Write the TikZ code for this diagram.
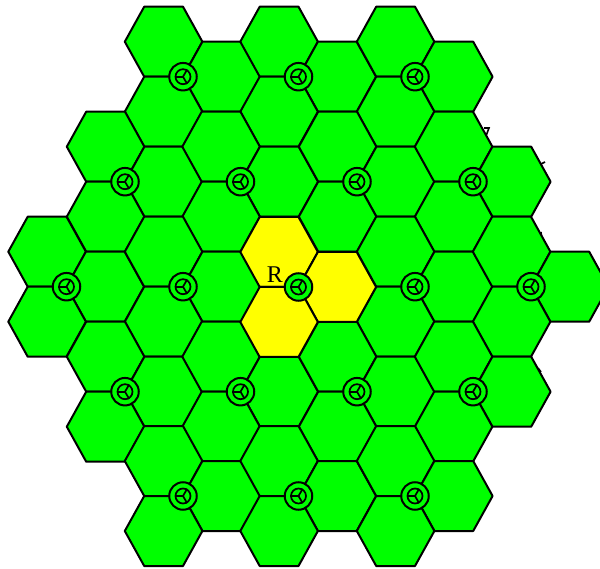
\documentclass[tikz,border=0pt]{standalone}
\usepackage{fontspec}
\setmainfont{Liberation Serif}
\definecolor{cellgreen}{RGB}{0,255,0}
\definecolor{cellyellow}{RGB}{255,255,0}
\tikzset{
  x=1pt,y=-1pt,
  hexcell/.style={draw=black,line width=2pt,line join=round,fill=cellgreen},
  hexhot/.style={hexcell,fill=cellyellow},
  antennaring/.style={draw=black,line width=2pt,fill=cellgreen},
  antennacore/.style={draw=black,line width=1.7pt},
  stray/.style={draw=black,line width=1.6pt},
}
\newcommand{\hexat}[3]{%
  \draw[#1] ({#2-38.8},{#3}) -- ({#2-19.4},{#3-35}) -- ({#2+19.4},{#3-35}) -- ({#2+38.8},{#3}) -- ({#2+19.4},{#3+35}) -- ({#2-19.4},{#3+35}) -- cycle;}
\newcommand{\sitecells}[3]{%
  \hexat{#1}{#2-19.4}{#3-35}\hexat{#1}{#2+38.8}{#3}\hexat{#1}{#2-19.4}{#3+35}}
\newcommand{\antenna}[3]{%
  \node[circle,inner sep=0pt,minimum size=27.5pt,antennaring] (s#1) at (#2,#3) {};
  \node[circle,inner sep=0pt,minimum size=15pt,antennacore] (c#1) at (#2,#3) {};
  \draw[antennacore] (c#1.center) -- (c#1.180);
  \draw[antennacore] (c#1.center) -- (c#1.60);
  \draw[antennacore] (c#1.center) -- (c#1.-60);}
\begin{document}
\begin{tikzpicture}
\useasboundingbox (0,0) rectangle (600,569);
\clip (0,0) rectangle (600,569);
\fill[white] (0,0) rectangle (600,569);
% stray marks behind the cells
\draw[stray] (191,22) arc (-60:60:5);
\draw[stray] (484,128) -- (489,128) -- (486,136);
\draw[stray] (541,164) -- (545,162);
\draw[stray] (541,232) -- (542,240);
\draw[stray] (538,368) -- (541,372);
% cells
\foreach \sx/\sy in {183/76.7,298.5/76.7,415/76.7,
  125/181.7,240.5/181.7,357/181.7,473/181.7,
  66.5/286.7,183/286.7,415/286.7,531/286.7,
  125/391.7,240.5/391.7,357/391.7,473/391.7,
  183/496,298.5/496,415/496}{
  \sitecells{hexcell}{\sx}{\sy}
}
\sitecells{hexhot}{298.5}{287}
% antennas
\foreach \n/\sx/\sy in {a/183/76.7,b/298.5/76.7,d/415/76.7,
  e/125/181.7,f/240.5/181.7,g/357/181.7,h/473/181.7,
  i/66.5/286.7,j/183/286.7,k/298.5/287,l/415/286.7,m/531/286.7,
  n/125/391.7,o/240.5/391.7,p/357/391.7,q/473/391.7,
  r/183/496,t/298.5/496,u/415/496}{
  \antenna{\n}{\sx}{\sy}
}
\node[font=\fontsize{24}{24}\selectfont,inner sep=0pt] (lab) at (275,274.5) {R};
\end{tikzpicture}
\end{document}
